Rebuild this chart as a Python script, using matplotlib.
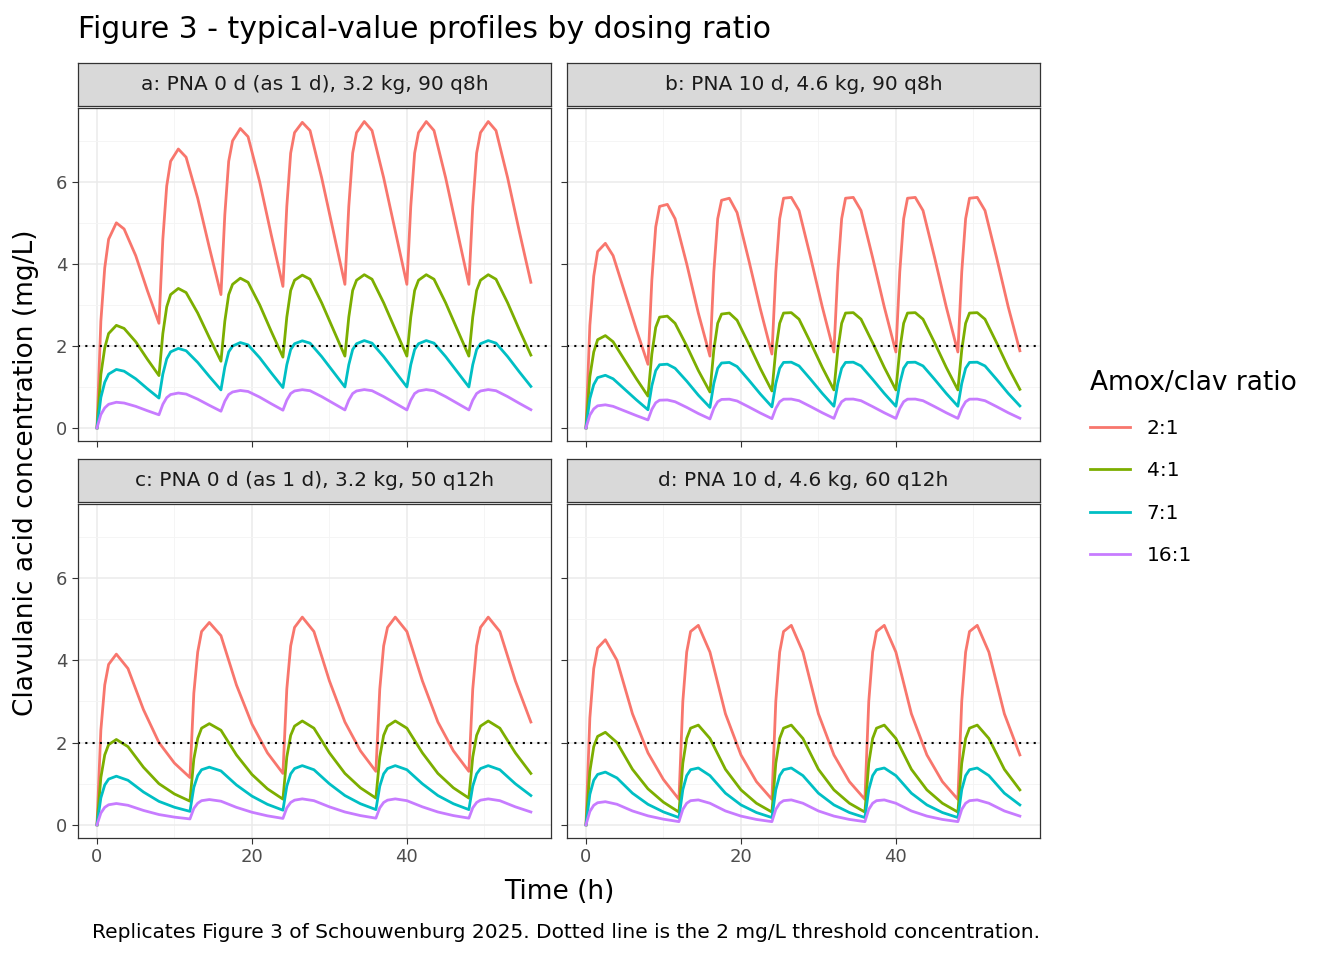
import matplotlib
matplotlib.use("Agg")
import matplotlib.pyplot as plt
import numpy as np

titles = ["a: PNA 0 d (as 1 d), 3.2 kg, 90 q8h", "b: PNA 10 d, 4.6 kg, 90 q8h",
          "c: PNA 0 d (as 1 d), 3.2 kg, 50 q12h", "d: PNA 10 d, 4.6 kg, 60 q12h"]
ratios = ["2:1", "4:1", "7:1", "16:1"]
ratio_scale = [1.0, 0.5, 0.285, 0.125]
colors = ["#F8766D", "#7CAE00", "#00BFC4", "#C77CFF"]
tau = [8, 8, 12, 12]
offsets_q8 = [0, 0.5, 1, 1.5, 2.5, 3.5, 5, 6.5, 8]
offsets_q12 = [0, 0.5, 1, 1.5, 2.5, 4, 6, 8, 10, 12]
# 2:1 concentrations per dosing interval at the offsets above
a_vals = [[0, 2.6, 3.9, 4.6, 5.0, 4.85, 4.2, 3.35, 2.55],
          [2.55, 4.6, 5.9, 6.5, 6.8, 6.6, 5.6, 4.4, 3.25],
          [3.25, 5.2, 6.5, 7.0, 7.3, 7.1, 6.0, 4.7, 3.45],
          [3.45, 5.4, 6.7, 7.2, 7.45, 7.25, 6.1, 4.8, 3.5],
          [3.5, 5.4, 6.7, 7.2, 7.47, 7.25, 6.1, 4.8, 3.5],
          [3.5, 5.4, 6.7, 7.2, 7.47, 7.25, 6.1, 4.8, 3.5],
          [3.5, 5.4, 6.7, 7.2, 7.47, 7.25, 6.1, 4.8, 3.55]]
b_vals = [[0, 2.5, 3.7, 4.3, 4.5, 4.2, 3.3, 2.4, 1.55],
          [1.55, 3.6, 4.9, 5.4, 5.45, 5.1, 4.0, 2.8, 1.75],
          [1.75, 3.8, 5.1, 5.55, 5.6, 5.25, 4.1, 2.9, 1.8],
          [1.8, 3.8, 5.1, 5.6, 5.62, 5.3, 4.15, 2.95, 1.85],
          [1.85, 3.8, 5.1, 5.6, 5.62, 5.3, 4.15, 2.95, 1.85],
          [1.85, 3.8, 5.1, 5.6, 5.62, 5.3, 4.15, 2.95, 1.85],
          [1.85, 3.8, 5.1, 5.6, 5.62, 5.3, 4.15, 2.95, 1.88]]
c_vals = [[0, 2.3, 3.4, 3.9, 4.15, 3.8, 2.8, 2.0, 1.5, 1.15],
          [1.15, 3.2, 4.2, 4.7, 4.92, 4.6, 3.4, 2.45, 1.75, 1.25],
          [1.25, 3.3, 4.35, 4.8, 5.05, 4.7, 3.5, 2.5, 1.8, 1.3],
          [1.3, 3.3, 4.35, 4.8, 5.05, 4.7, 3.5, 2.5, 1.8, 1.3],
          [1.3, 3.3, 4.35, 4.8, 5.05, 4.7, 3.5, 2.5]]
d_vals = [[0, 2.6, 3.8, 4.3, 4.5, 4.0, 2.7, 1.75, 1.1, 0.62],
          [0.62, 3.0, 4.2, 4.7, 4.85, 4.2, 2.7, 1.7, 1.05, 0.62],
          [0.62, 3.0, 4.2, 4.7, 4.85, 4.2, 2.7, 1.7, 1.05, 0.62],
          [0.62, 3.0, 4.2, 4.7, 4.85, 4.2, 2.7, 1.7, 1.05, 0.62],
          [0.62, 3.0, 4.2, 4.7, 4.85, 4.2, 2.7, 1.7]]
panel_vals = [a_vals, b_vals, c_vals, d_vals]
threshold = 2

def series(vals, t):
    offs = offsets_q8 if t == 8 else offsets_q12
    ts, cs = [], []
    for i, v in enumerate(vals):
        ts += [i * t + o for o in offs[:len(v)]]
        cs += v
    return np.array(ts), np.array(cs)

W, H = 1344, 960
fig = plt.figure(figsize=(13.44, 9.6), dpi=100)
boxes = [(78, 108, 551, 441), (567, 108, 1040, 441), (78, 504, 551, 838), (567, 504, 1040, 838)]
for k, (x0, y0, x1, y1) in enumerate(boxes):
    ax = fig.add_axes([x0 / W, 1 - y1 / H, (x1 - x0) / W, (y1 - y0) / H])
    ax.set_xlim(-2.45, 58.6)
    ax.set_ylim(-0.32, 7.8)
    ax.set_xticks([0, 20, 40]); ax.set_xticks([10, 30, 50], minor=True)
    ax.set_yticks([0, 2, 4, 6]); ax.set_yticks([1, 3, 5, 7], minor=True)
    ax.grid(True, which="major", color="#ebebeb", lw=1.1)
    ax.grid(True, which="minor", color="#f4f4f4", lw=0.6)
    ax.set_axisbelow(True)
    for s in ax.spines.values():
        s.set_color("#333333"); s.set_linewidth(0.9)
    ax.tick_params(which="minor", length=0)
    ax.tick_params(which="major", length=4, color="#333333", labelcolor="#4d4d4d", labelsize=13)
    if k < 2:
        ax.set_xticklabels([])
    if k % 2 == 1:
        ax.set_yticklabels([])
    t, c = series(panel_vals[k], tau[k])
    for r, sc, col in zip(ratios, ratio_scale, colors):
        ax.plot(t, c * sc, color=col, lw=2, label=r)
    ax.axhline(threshold, color="black", ls=(0, (1, 2.5)), lw=1.5)
    sax = fig.add_axes([x0 / W, 1 - (y0 - 2) / H, (x1 - x0) / W, 43 / H])
    sax.set_xticks([]); sax.set_yticks([])
    sax.set_facecolor("#d9d9d9")
    for s in sax.spines.values():
        s.set_color("#333333"); s.set_linewidth(0.9)
    sax.text(0.5, 0.5, titles[k], ha="center", va="center", fontsize=14.5, color="#1a1a1a", transform=sax.transAxes)
    if k == 0:
        handles, labels = ax.get_legend_handles_labels()

fig.legend(handles, labels, title="Amox/clav ratio", loc="upper left",
           bbox_to_anchor=(1072 / W, 1 - 352 / H), frameon=False, fontsize=14.5,
           title_fontsize=19, handlelength=2, labelspacing=1.15, alignment="left")
fig.text(78 / W, 1 - 30 / H, "Figure 3 - typical-value profiles by dosing ratio", fontsize=21.5, va="center")
fig.text(559 / W, 1 - 892 / H, "Time (h)", fontsize=19, ha="center", va="center")
fig.text(26 / W, 1 - 473 / H, "Clavulanic acid concentration (mg/L)", fontsize=19, rotation=90, ha="center", va="center")
fig.text(1040 / W, 1 - 932 / H, "Replicates Figure 3 of Schouwenburg 2025. Dotted line is the 2 mg/L threshold concentration.",
         fontsize=14.5, ha="right", va="center")
fig.savefig("out.png", dpi=100)
